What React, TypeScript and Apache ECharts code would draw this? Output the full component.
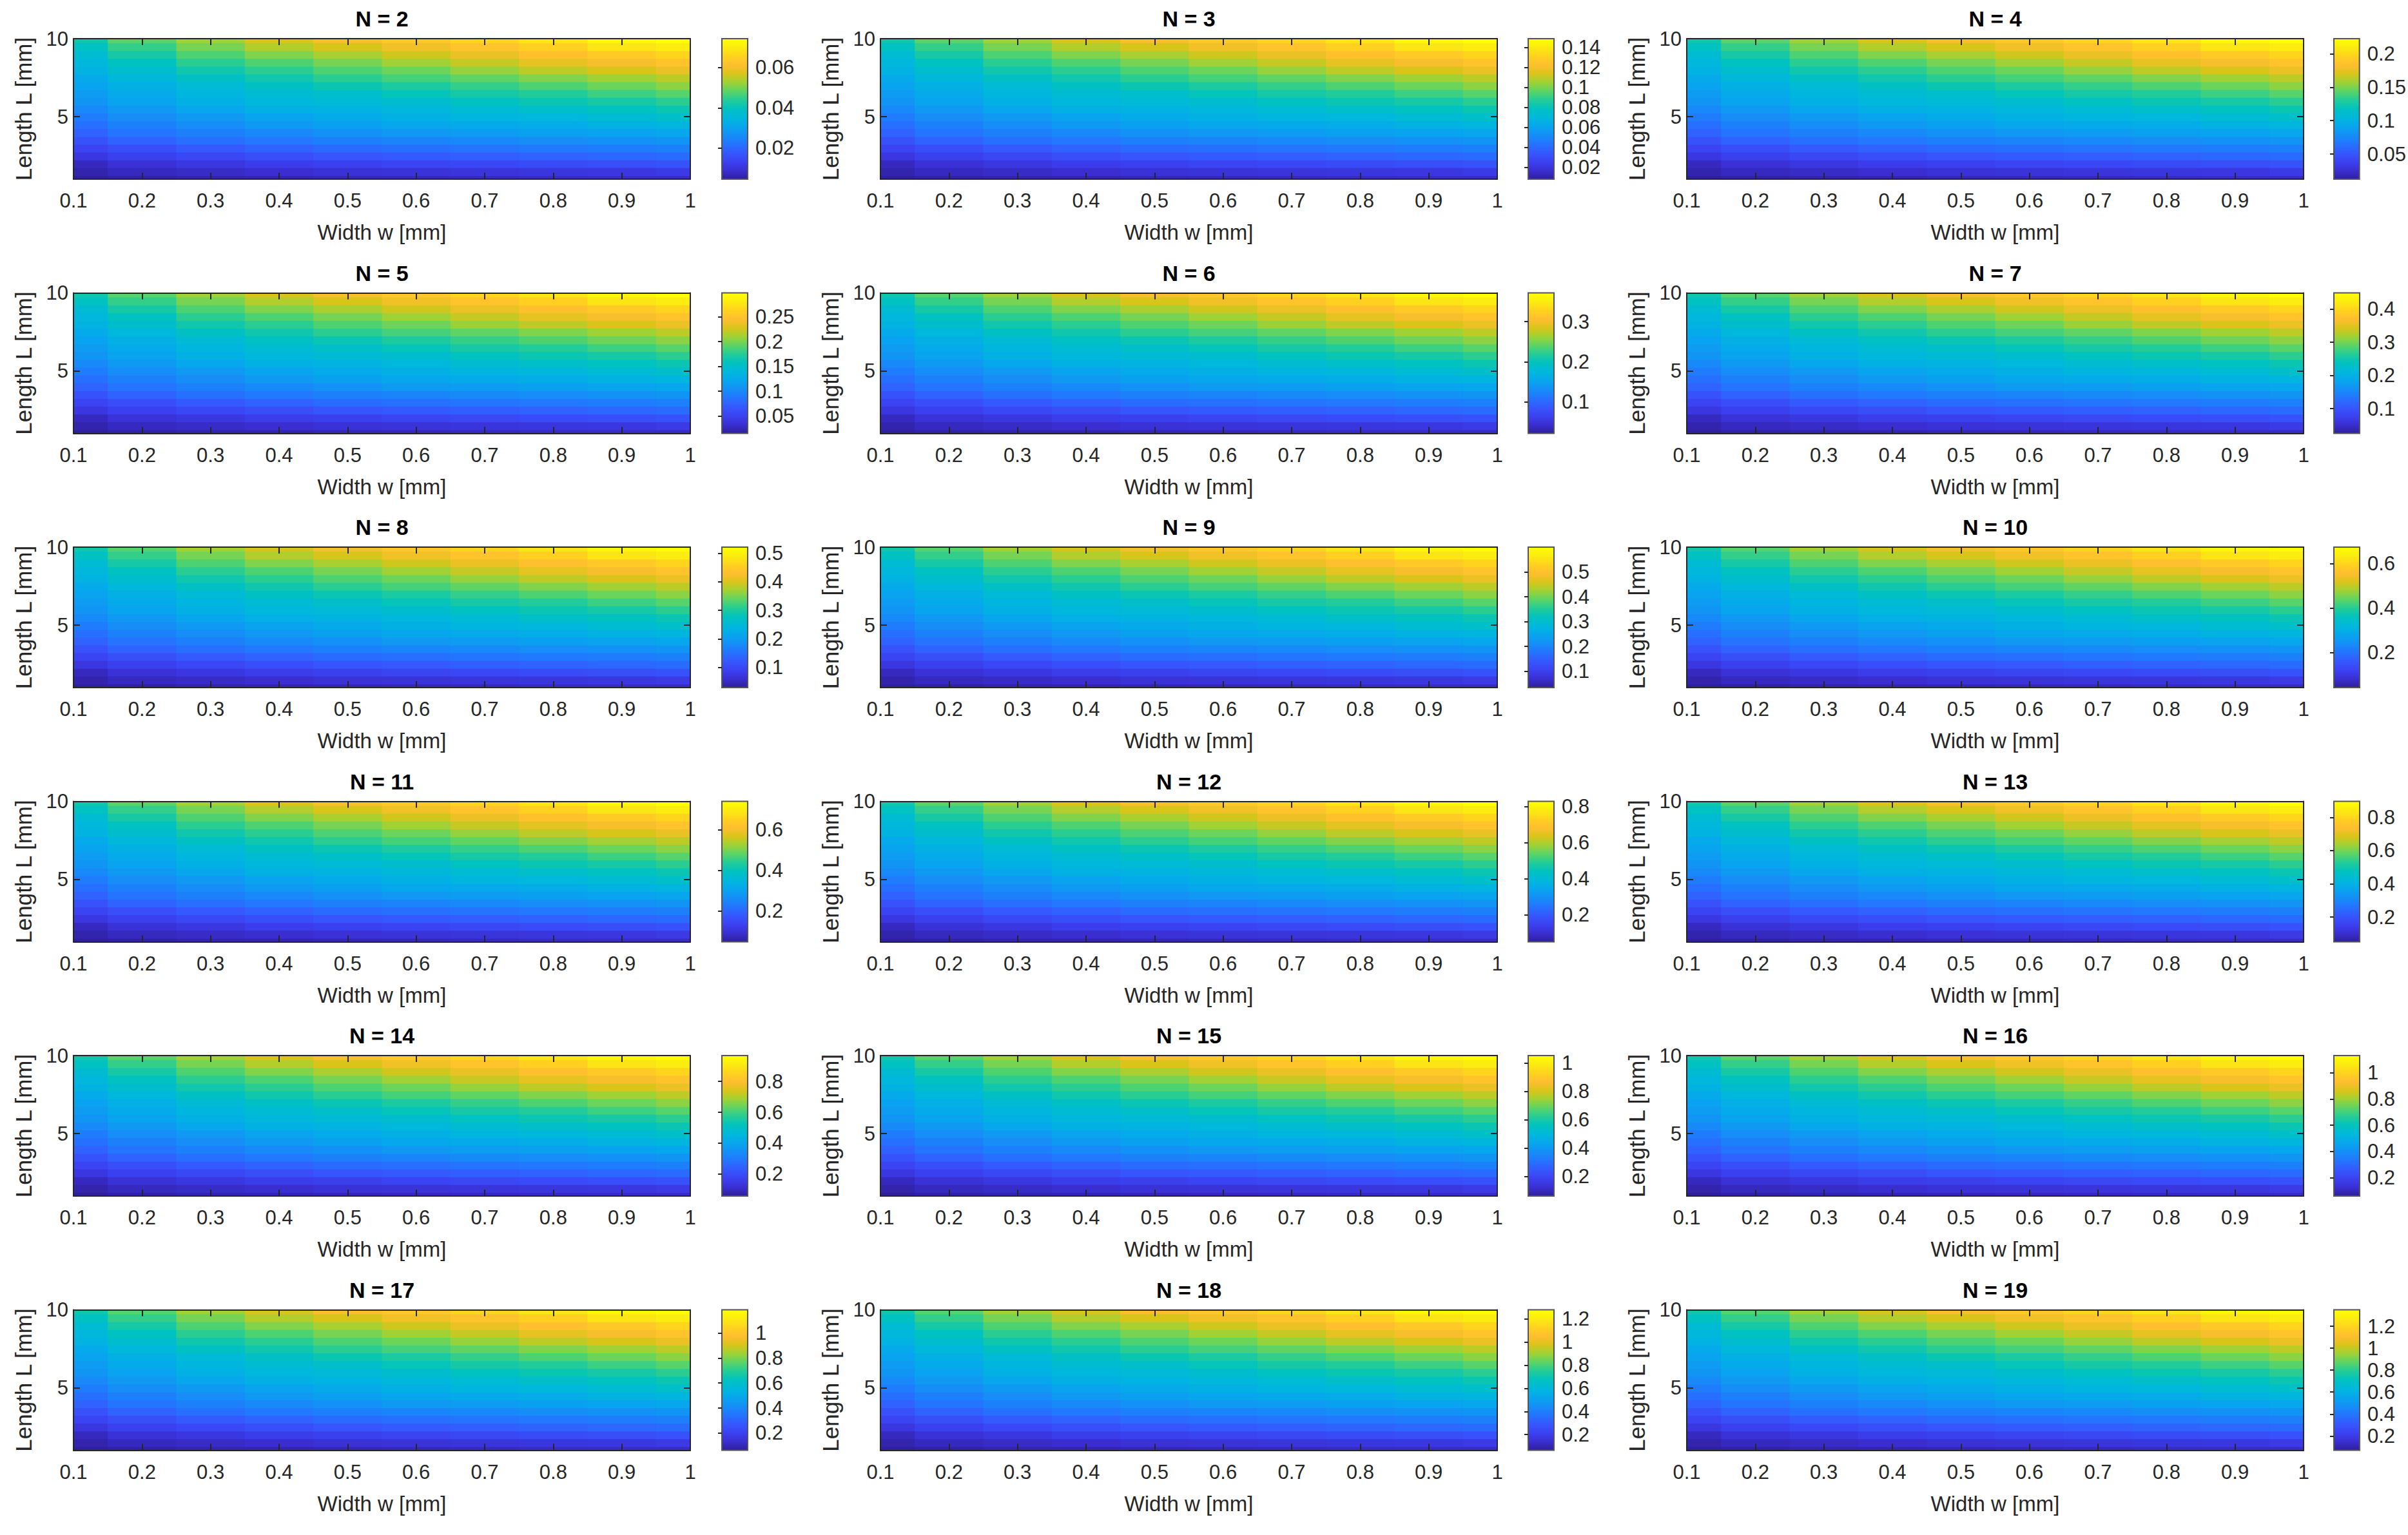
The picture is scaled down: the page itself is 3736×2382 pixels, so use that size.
import React, { useEffect, useRef } from "react";
import * as echarts from "echarts";

// ---------- data ----------
const N_VALUES = [2, 3, 4, 5, 6, 7, 8, 9, 10, 11, 12, 13, 14, 15, 16, 17, 18, 19];

// colour-bar limits of every panel
const C_MIN = [0.0045, 0.008, 0.0125, 0.0152, 0.021, 0.0257, 0.029, 0.034, 0.041, 0.046, 0.05, 0.051, 0.057, 0.061, 0.059, 0.063, 0.065, 0.07];
const C_MAX = [0.0744, 0.1487, 0.2226, 0.298, 0.372, 0.449, 0.522, 0.6, 0.675, 0.742, 0.828, 0.896, 0.968, 1.052, 1.132, 1.185, 1.278, 1.35];

// colour-bar tick labels of every panel
const CBAR_TICKS = [
  [0.02, 0.04, 0.06],
  [0.02, 0.04, 0.06, 0.08, 0.1, 0.12, 0.14],
  [0.05, 0.1, 0.15, 0.2],
  [0.05, 0.1, 0.15, 0.2, 0.25],
  [0.1, 0.2, 0.3],
  [0.1, 0.2, 0.3, 0.4],
  [0.1, 0.2, 0.3, 0.4, 0.5],
  [0.1, 0.2, 0.3, 0.4, 0.5],
  [0.2, 0.4, 0.6],
  [0.2, 0.4, 0.6],
  [0.2, 0.4, 0.6, 0.8],
  [0.2, 0.4, 0.6, 0.8],
  [0.2, 0.4, 0.6, 0.8],
  [0.2, 0.4, 0.6, 0.8, 1],
  [0.2, 0.4, 0.6, 0.8, 1],
  [0.2, 0.4, 0.6, 0.8, 1],
  [0.2, 0.4, 0.6, 0.8, 1, 1.2],
  [0.2, 0.4, 0.6, 0.8, 1, 1.2],
];

// sample positions of the field
const W_VALUES = [0.1, 0.2, 0.3, 0.4, 0.5, 0.6, 0.7, 0.8, 0.9, 1.0];
const L_VALUES = [1, 1.5, 2, 2.5, 3, 3.5, 4, 4.5, 5, 5.5, 6, 6.5, 7, 7.5, 8, 8.5, 9, 9.5, 10];

// field level, 0 = bottom of colour bar, 1 = top (rows: L, columns: w)
const SHAPE = [
  [0.0, 0.01, 0.02, 0.025, 0.03, 0.035, 0.04, 0.045, 0.05, 0.05],
  [0.02, 0.04, 0.05, 0.06, 0.07, 0.075, 0.08, 0.085, 0.09, 0.1],
  [0.04, 0.07, 0.09, 0.11, 0.12, 0.13, 0.14, 0.15, 0.16, 0.17],
  [0.09, 0.12, 0.14, 0.16, 0.18, 0.19, 0.2, 0.21, 0.22, 0.23],
  [0.13, 0.16, 0.19, 0.21, 0.23, 0.24, 0.25, 0.26, 0.27, 0.28],
  [0.17, 0.21, 0.24, 0.26, 0.28, 0.29, 0.3, 0.31, 0.32, 0.33],
  [0.21, 0.25, 0.28, 0.3, 0.32, 0.34, 0.35, 0.36, 0.37, 0.38],
  [0.24, 0.28, 0.31, 0.34, 0.36, 0.38, 0.39, 0.4, 0.42, 0.43],
  [0.27, 0.31, 0.34, 0.37, 0.39, 0.41, 0.43, 0.44, 0.46, 0.48],
  [0.3, 0.34, 0.38, 0.41, 0.42, 0.44, 0.46, 0.48, 0.5, 0.52],
  [0.33, 0.37, 0.41, 0.44, 0.45, 0.47, 0.5, 0.52, 0.54, 0.57],
  [0.35, 0.39, 0.43, 0.46, 0.48, 0.51, 0.54, 0.56, 0.59, 0.62],
  [0.37, 0.41, 0.45, 0.49, 0.52, 0.55, 0.58, 0.61, 0.64, 0.67],
  [0.39, 0.44, 0.49, 0.53, 0.57, 0.6, 0.63, 0.66, 0.69, 0.72],
  [0.42, 0.47, 0.53, 0.57, 0.61, 0.64, 0.68, 0.72, 0.75, 0.78],
  [0.44, 0.5, 0.57, 0.61, 0.65, 0.69, 0.73, 0.77, 0.8, 0.83],
  [0.46, 0.54, 0.61, 0.66, 0.7, 0.74, 0.78, 0.82, 0.85, 0.88],
  [0.5, 0.58, 0.65, 0.71, 0.75, 0.79, 0.83, 0.87, 0.92, 0.94],
  [0.53, 0.62, 0.69, 0.75, 0.8, 0.84, 0.88, 0.92, 0.97, 1.0],
];

const Y_TICKS = [5, 10];

// parula-like colour map as it appears in the reference
const PARULA = [
  "#2e1f9c", "#3a2fd2", "#3b42f2", "#3558ff", "#2474ff", "#158ef7", "#07a6ee", "#00b8dc",
  "#00c2c0", "#22cc98", "#5bd466", "#9ed236", "#d9c51a", "#ffbe30", "#ffd21e", "#fbec10", "#ffff00",
];

// ---------- layout ----------
const WIDTH = 3736;
const HEIGHT = 2382;
const PLOT_LEFTS = [114, 1366, 2617];
const CBAR_LEFTS = [1120, 2371, 3621];
const PLOT_W = 957;
const CBAR_W = 40;
const TOP0 = 60;
const ROW_STEP = 394.5;
const PLOT_H = 218;
const HALF_W = 0.05;
const HALF_L = 0.25;

const INK = "#262626";
const TICK_FONT = '"Liberation Sans Narrow", "Liberation Sans", Arial, sans-serif';
const LABEL_FONT = '"Liberation Sans", Arial, sans-serif';

function buildOption() {
  const grid: any[] = [];
  const xAxis: any[] = [];
  const yAxis: any[] = [];
  const series: any[] = [];
  const visualMap: any[] = [];
  const graphic: any[] = [];

  const gradientStops = PARULA.map((c, i) => ({ offset: i / (PARULA.length - 1), color: c }));

  const frameLine = { show: true, onZero: false, lineStyle: { color: INK, width: 2 } };
  const innerTick = { show: true, inside: true, length: 10, lineStyle: { color: INK, width: 2 } };

  N_VALUES.forEach((n, k) => {
    const col = k % 3;
    const row = Math.floor(k / 3);
    const left = PLOT_LEFTS[col];
    const top = TOP0 + row * ROW_STEP;
    const gi = grid.length;
    grid.push({ left, top, width: PLOT_W, height: PLOT_H });
    grid.push({ left: CBAR_LEFTS[col], top, width: CBAR_W, height: PLOT_H });
    const ci = gi + 1;

    const xi = xAxis.length;
    xAxis.push({
      type: "value", gridIndex: gi, min: 0.1, max: 1, interval: 0.1, position: "bottom", z: 10,
      name: "Width w [mm]", nameLocation: "middle", nameGap: 66,
      nameTextStyle: { fontSize: 33, color: INK, fontFamily: LABEL_FONT },
      axisLine: frameLine, axisTick: innerTick, splitLine: { show: false },
      axisLabel: { show: true, margin: 18, fontSize: 31, color: INK, fontFamily: TICK_FONT, showMinLabel: true, showMaxLabel: true },
    });
    xAxis.push({
      type: "value", gridIndex: gi, min: 0.1, max: 1, interval: 0.1, position: "top", z: 10,
      axisLine: frameLine, axisTick: innerTick, splitLine: { show: false }, axisLabel: { show: false },
    });
    xAxis.push({ type: "value", gridIndex: ci, min: 0, max: 1, show: false });

    const yi = yAxis.length;
    yAxis.push({
      type: "value", gridIndex: gi, min: 1, max: 10, position: "left", z: 10,
      name: "Length L [mm]", nameLocation: "middle", nameGap: 60,
      nameTextStyle: { fontSize: 35, color: INK, fontFamily: LABEL_FONT },
      axisLine: frameLine,
      axisTick: { ...innerTick, customValues: Y_TICKS },
      splitLine: { show: false },
      axisLabel: { show: true, margin: 8, fontSize: 31, color: INK, fontFamily: TICK_FONT, customValues: Y_TICKS },
    });
    yAxis.push({
      type: "value", gridIndex: gi, min: 1, max: 10, position: "right", z: 10,
      axisLine: frameLine,
      axisTick: { ...innerTick, customValues: Y_TICKS },
      splitLine: { show: false }, axisLabel: { show: false },
    });
    yAxis.push({
      type: "value", gridIndex: ci, min: C_MIN[k], max: C_MAX[k], position: "right", z: 10,
      axisLine: { show: false },
      axisTick: { show: true, inside: true, length: 6, lineStyle: { color: INK, width: 2 }, customValues: CBAR_TICKS[k] },
      splitLine: { show: false },
      axisLabel: { show: true, margin: 12, fontSize: 31, color: INK, fontFamily: TICK_FONT, customValues: CBAR_TICKS[k] },
    });

    const span = C_MAX[k] - C_MIN[k];
    const data: number[][] = [];
    L_VALUES.forEach((L, j) => {
      W_VALUES.forEach((w, i) => {
        data.push([w, L, C_MIN[k] + SHAPE[j][i] * span]);
      });
    });

    series.push({
      type: "custom",
      name: "N = " + n,
      xAxisIndex: xi,
      yAxisIndex: yi,
      clip: true,
      silent: true,
      encode: { x: 0, y: 1 },
      data,
      renderItem: (params: any, api: any) => {
        const w = api.value(0);
        const L = api.value(1);
        const x0 = Math.max(w - HALF_W, 0.1);
        const x1 = Math.min(w + HALF_W, 1);
        const y0 = Math.max(L - HALF_L, 1);
        const y1 = Math.min(L + HALF_L, 10);
        const p0 = api.coord([x0, y1]);
        const p1 = api.coord([x1, y0]);
        return {
          type: "rect",
          shape: { x: p0[0], y: p0[1], width: p1[0] - p0[0] + 1, height: p1[1] - p0[1] + 1 },
          style: { fill: api.visual("color"), stroke: null },
        };
      },
    });
    visualMap.push({
      type: "continuous", show: false, seriesIndex: series.length - 1, dimension: 2,
      min: C_MIN[k], max: C_MAX[k], inRange: { color: PARULA },
    });

    series.push({
      type: "custom",
      name: "colorbar " + n,
      xAxisIndex: xi + 2,
      yAxisIndex: yi + 2,
      silent: true,
      data: [[0.5, C_MIN[k]]],
      renderItem: (params: any) => {
        const cs = params.coordSys;
        return {
          type: "rect",
          shape: { x: cs.x, y: cs.y, width: cs.width, height: cs.height },
          style: {
            fill: new echarts.graphic.LinearGradient(0, 1, 0, 0, gradientStops),
            stroke: "#555555",
            lineWidth: 2,
          },
        };
      },
    });

    graphic.push({
      type: "text",
      x: left + PLOT_W / 2,
      y: top - 31,
      style: {
        text: "N = " + n,
        fontSize: 34,
        fontWeight: "bold",
        fontFamily: LABEL_FONT,
        fill: "#000000",
        textAlign: "center",
        textVerticalAlign: "middle",
      },
    });
  });

  return {
    animation: false,
    backgroundColor: "#ffffff",
    grid,
    xAxis,
    yAxis,
    series,
    visualMap,
    graphic,
  };
}

export default function App() {
  const ref = useRef<HTMLDivElement>(null);
  useEffect(() => {
    if (!ref.current) return;
    const chart = echarts.init(ref.current, null, { renderer: "svg" });
    chart.setOption(buildOption());
    return () => chart.dispose();
  }, []);
  return (
    <div
      ref={ref}
      style={{ position: "fixed", left: 0, top: 0, width: WIDTH, height: HEIGHT, background: "#ffffff" }}
    />
  );
}
